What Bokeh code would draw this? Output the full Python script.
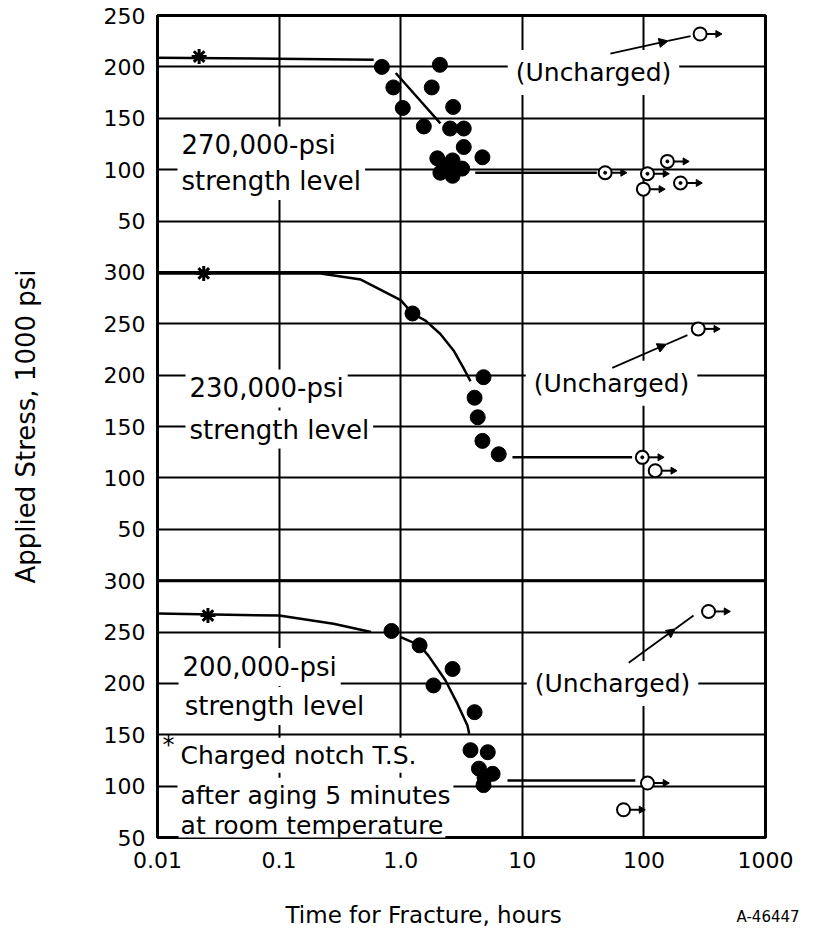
import math
from bokeh.plotting import figure
from bokeh.layouts import column
from bokeh.models import FixedTicker, Label, Span, Arrow, NormalHead
from bokeh.core.properties import value
from bokeh.embed import file_html
from bokeh.resources import INLINE

# ---------------- data ----------------
x_ticks = [0.01, 0.1, 1, 10, 100, 1000]
x_tick_labels = ["0.01", "0.1", "1.0", "10", "100", "1000"]

# stress ticks in each panel (1000 psi)
top_ticks = [50, 100, 150, 200, 250]
mid_ticks = [50, 100, 150, 200, 250, 300]
bot_ticks = [50, 100, 150, 200, 250, 300]

# 270,000-psi strength level (top panel)
top_fail_t = [0.70, 2.1, 0.87, 1.8, 1.04, 2.7, 1.55, 2.55, 3.3, 3.3, 4.7, 2.0, 2.12, 2.67, 2.67, 3.2, 2.33]
top_fail_s = [200, 202, 180, 180, 160, 161, 142, 140, 140, 122, 112, 111, 97, 109, 94, 101, 104]
top_star_t = [0.022]
top_star_s = [210]
top_run_t = [48, 107, 156, 99, 200, 290]
top_run_s = [97, 96, 108, 81, 87, 232]
top_run_dot = [1, 1, 1, 0, 1, 0]
top_flat_t = [0.01, 0.6]
top_flat_s = [209, 207]
top_curve_t = [0.91, 1.45, 2.12]
top_curve_s = [194, 167, 145]
top_hline_t = [4.1, 41]
top_hline_s = [97, 97]

# 230,000-psi strength level (middle panel)
mid_fail_t = [1.25, 4.8, 4.05, 4.3, 4.7, 6.4]
mid_fail_s = [260, 198, 178, 159, 136, 123]
mid_star_t = [0.024]
mid_star_s = [299]
mid_run_t = [97, 124, 280]
mid_run_s = [120, 107, 245]
mid_run_dot = [1, 0, 0]
mid_curve_t = [0.01, 0.22, 0.47, 1.0, 1.25, 1.6, 2.12, 2.72, 3.28, 3.75]
mid_curve_s = [299, 299, 293, 273, 260, 253, 240, 224, 207, 194]
mid_hline_t = [8.3, 80]
mid_hline_s = [120, 120]

# 200,000-psi strength level (bottom panel)
bot_fail_t = [0.84, 1.43, 2.67, 1.86, 4.05, 3.75, 5.2, 4.4, 5.7, 4.8, 4.9]
bot_fail_s = [251, 237, 214, 198, 172, 135, 133, 117, 112, 101, 108]
bot_star_t = [0.026]
bot_star_s = [266]
bot_run_t = [107, 68, 340]
bot_run_s = [103, 77, 270]
bot_run_dot = [0, 0, 0]
bot_flat_t = [0.01, 0.1, 0.28, 0.57]
bot_flat_s = [268, 266, 258, 250]
bot_curve_t = [1.0, 1.43, 1.69, 2.33, 2.93, 3.54, 3.66]
bot_curve_s = [245, 237, 227, 203, 180, 159, 151]
bot_hline_t = [7.55, 85]
bot_hline_s = [105.5, 105.5]

# leader lines "(Uncharged)" -> runout point: (t0, s0, t1, s1)
top_leader = (53, 213, 242, 230)
mid_leader = (55, 207, 228, 239)
bot_leader = (75, 220, 256, 266)

x_title = "Time for Fracture, hours"
y_title = "Applied Stress, 1000 psi"
fig_code = "A-46447"

# ---------------- layout helpers ----------------
OFF_TOP, OFF_MID, OFF_BOT = 600, 300, 0
FONT = "DejaVu Sans"


def shift(vals, off):
    return [v + off for v in vals]


y_overrides = {}
for v in bot_ticks:
    y_overrides[v + OFF_BOT] = str(v)
for v in mid_ticks:
    y_overrides[v + OFF_MID] = str(v)
for v in top_ticks:
    y_overrides[v + OFF_TOP] = str(v)

p = figure(width=825, height=895, x_axis_type="log",
           x_range=(0.01, 1000), y_range=(50, 850),
           output_backend="svg", toolbar_location=None,
           min_border_left=157, min_border_right=60,
           min_border_top=15, min_border_bottom=58)
p.background_fill_color = "white"
p.border_fill_color = "white"
p.outline_line_color = "black"
p.outline_line_width = 3

p.xaxis.ticker = FixedTicker(ticks=x_ticks)
p.xaxis.major_label_overrides = {t: l for t, l in zip(x_ticks, x_tick_labels)}
p.yaxis.ticker = FixedTicker(ticks=sorted(y_overrides.keys()))
p.yaxis.major_label_overrides = y_overrides
for ax in (p.xaxis[0], p.yaxis[0]):
    ax.axis_line_color = None
    ax.major_tick_line_color = None
    ax.minor_tick_line_color = None
    ax.major_label_text_font = FONT
    ax.major_label_text_font_size = "22px"
    ax.major_label_text_color = "black"
p.xaxis.major_label_standoff = 8
p.yaxis.major_label_standoff = 6
p.yaxis.axis_label = y_title
p.yaxis.axis_label_text_font = FONT
p.yaxis.axis_label_text_font_size = "26px"
p.yaxis.axis_label_text_font_style = "normal"
p.yaxis.axis_label_text_color = "black"
p.yaxis.axis_label_standoff = 60

p.xgrid.grid_line_color = "black"
p.xgrid.grid_line_width = 2
p.ygrid.grid_line_color = "black"
p.ygrid.grid_line_width = 2
p.xgrid.ticker = FixedTicker(ticks=x_ticks)
p.ygrid.ticker = FixedTicker(ticks=sorted(y_overrides.keys()))

for b in (OFF_MID, OFF_TOP):
    p.add_layout(Span(location=b, dimension="width", line_color="black", line_width=3))


def label(x, y, text, size="26px", align="left", bg=True, pad=4):
    kw = dict(x=x, y=y, text=text, text_font=FONT, text_font_size=size,
              text_color="black", text_align=align, text_baseline="middle")
    if bg:
        kw.update(background_fill_color="white", padding=pad)
    p.add_layout(Label(**kw))


panels = [
    (OFF_TOP, top_fail_t, top_fail_s, top_star_t, top_star_s, top_run_t, top_run_s, top_run_dot,
     [(top_flat_t, top_flat_s), (top_curve_t, top_curve_s), (top_hline_t, top_hline_s)], top_leader),
    (OFF_MID, mid_fail_t, mid_fail_s, mid_star_t, mid_star_s, mid_run_t, mid_run_s, mid_run_dot,
     [(mid_curve_t, mid_curve_s), (mid_hline_t, mid_hline_s)], mid_leader),
    (OFF_BOT, bot_fail_t, bot_fail_s, bot_star_t, bot_star_s, bot_run_t, bot_run_s, bot_run_dot,
     [(bot_flat_t, bot_flat_s), (bot_curve_t, bot_curve_s), (bot_hline_t, bot_hline_s)], bot_leader),
]

label(0.0146, 123.5 + OFF_TOP, "270,000-psi")
label(0.0146, 89 + OFF_TOP, "strength level")
label(0.0170, 187 + OFF_MID, "230,000-psi")
label(0.0170, 147 + OFF_MID, "strength level")
label(0.0149, 216 + OFF_BOT, "200,000-psi")
label(0.0155, 178 + OFF_BOT, "strength level")
label(0.0110, 140 + OFF_BOT, "*", size="24px", bg=False)
label(0.0146, 130 + OFF_BOT, "Charged notch T.S.", size="25px", pad=3)
label(0.0146, 91 + OFF_BOT, "after aging 5 minutes", size="25px", pad=3)
label(0.0149, 62 + OFF_BOT, "at room temperature", size="25px", pad=2)
label(38.5, 194.5 + OFF_TOP, "(Uncharged)", size="25px", align="center", pad=8)
label(54.2, 192 + OFF_MID, "(Uncharged)", size="25px", align="center", pad=8)
label(55.2, 200 + OFF_BOT, "(Uncharged)", size="25px", align="center", pad=8)

for off, ft, fs, st, ss, rt, rs, rd, lines, leader in panels:
    for lt, ls in lines:
        p.line(lt, shift(ls, off), line_color="black", line_width=2.5)
    p.scatter(ft, shift(fs, off), marker="circle", size=15,
              fill_color="black", line_color="black")
    p.scatter(st, shift(ss, off), marker="asterisk", size=15,
              line_color="black", line_width=3)
    t0 = [t * 1.13 for t in rt]
    t1 = [t * 1.4 for t in rt]
    p.segment(x0=t0, y0=shift(rs, off), x1=t1, y1=shift(rs, off),
              line_color="black", line_width=2)
    p.scatter(t1, shift(rs, off), marker="triangle", angle=-math.pi / 2, size=7,
              fill_color="black", line_color="black")
    p.scatter(rt, shift(rs, off), marker="circle", size=13,
              fill_color="white", line_color="black", line_width=2)
    dt = [t for t, d in zip(rt, rd) if d]
    ds = [s for s, d in zip(rs, rd) if d]
    p.scatter(dt, shift(ds, off), marker="circle", size=3,
              fill_color="black", line_color="black")
    a, b, c, d = leader
    fr = 0.72
    mt = 10 ** (math.log10(a) + fr * (math.log10(c) - math.log10(a)))
    ms = b + fr * (d - b)
    p.add_layout(Arrow(end=NormalHead(size=9, fill_color="black", line_color="black"),
                       x_start=a, y_start=b + off, x_end=mt, y_end=ms + off,
                       line_color="black", line_width=1.8))
    p.line([mt, c], [ms + off, d + off], line_color="black", line_width=1.8)

# bottom strip holding the x-axis title and the figure code (pixel-space frame)
strip = figure(width=825, height=36, x_range=(0, 825), y_range=(0, 36),
               output_backend="svg", toolbar_location=None, min_border=0)
strip.axis.visible = False
strip.grid.visible = False
strip.outline_line_color = None
strip.background_fill_color = "white"
strip.border_fill_color = "white"
for fig in (strip, p):
    try:
        fig.frame_align = False
    except (AttributeError, ValueError):
        pass
strip.text(x=[285], y=[17], text=[x_title], text_font=value(FONT),
           text_font_size="23px", text_align="left", text_baseline="middle",
           text_color="black")
strip.text(x=[736], y=[15], text=[fig_code], text_font=value(FONT),
           text_font_size="15px", text_align="left", text_baseline="middle",
           text_color="black")

layout = column(p, strip, spacing=0)
open("out.html", "w").write(file_html(layout, INLINE))
